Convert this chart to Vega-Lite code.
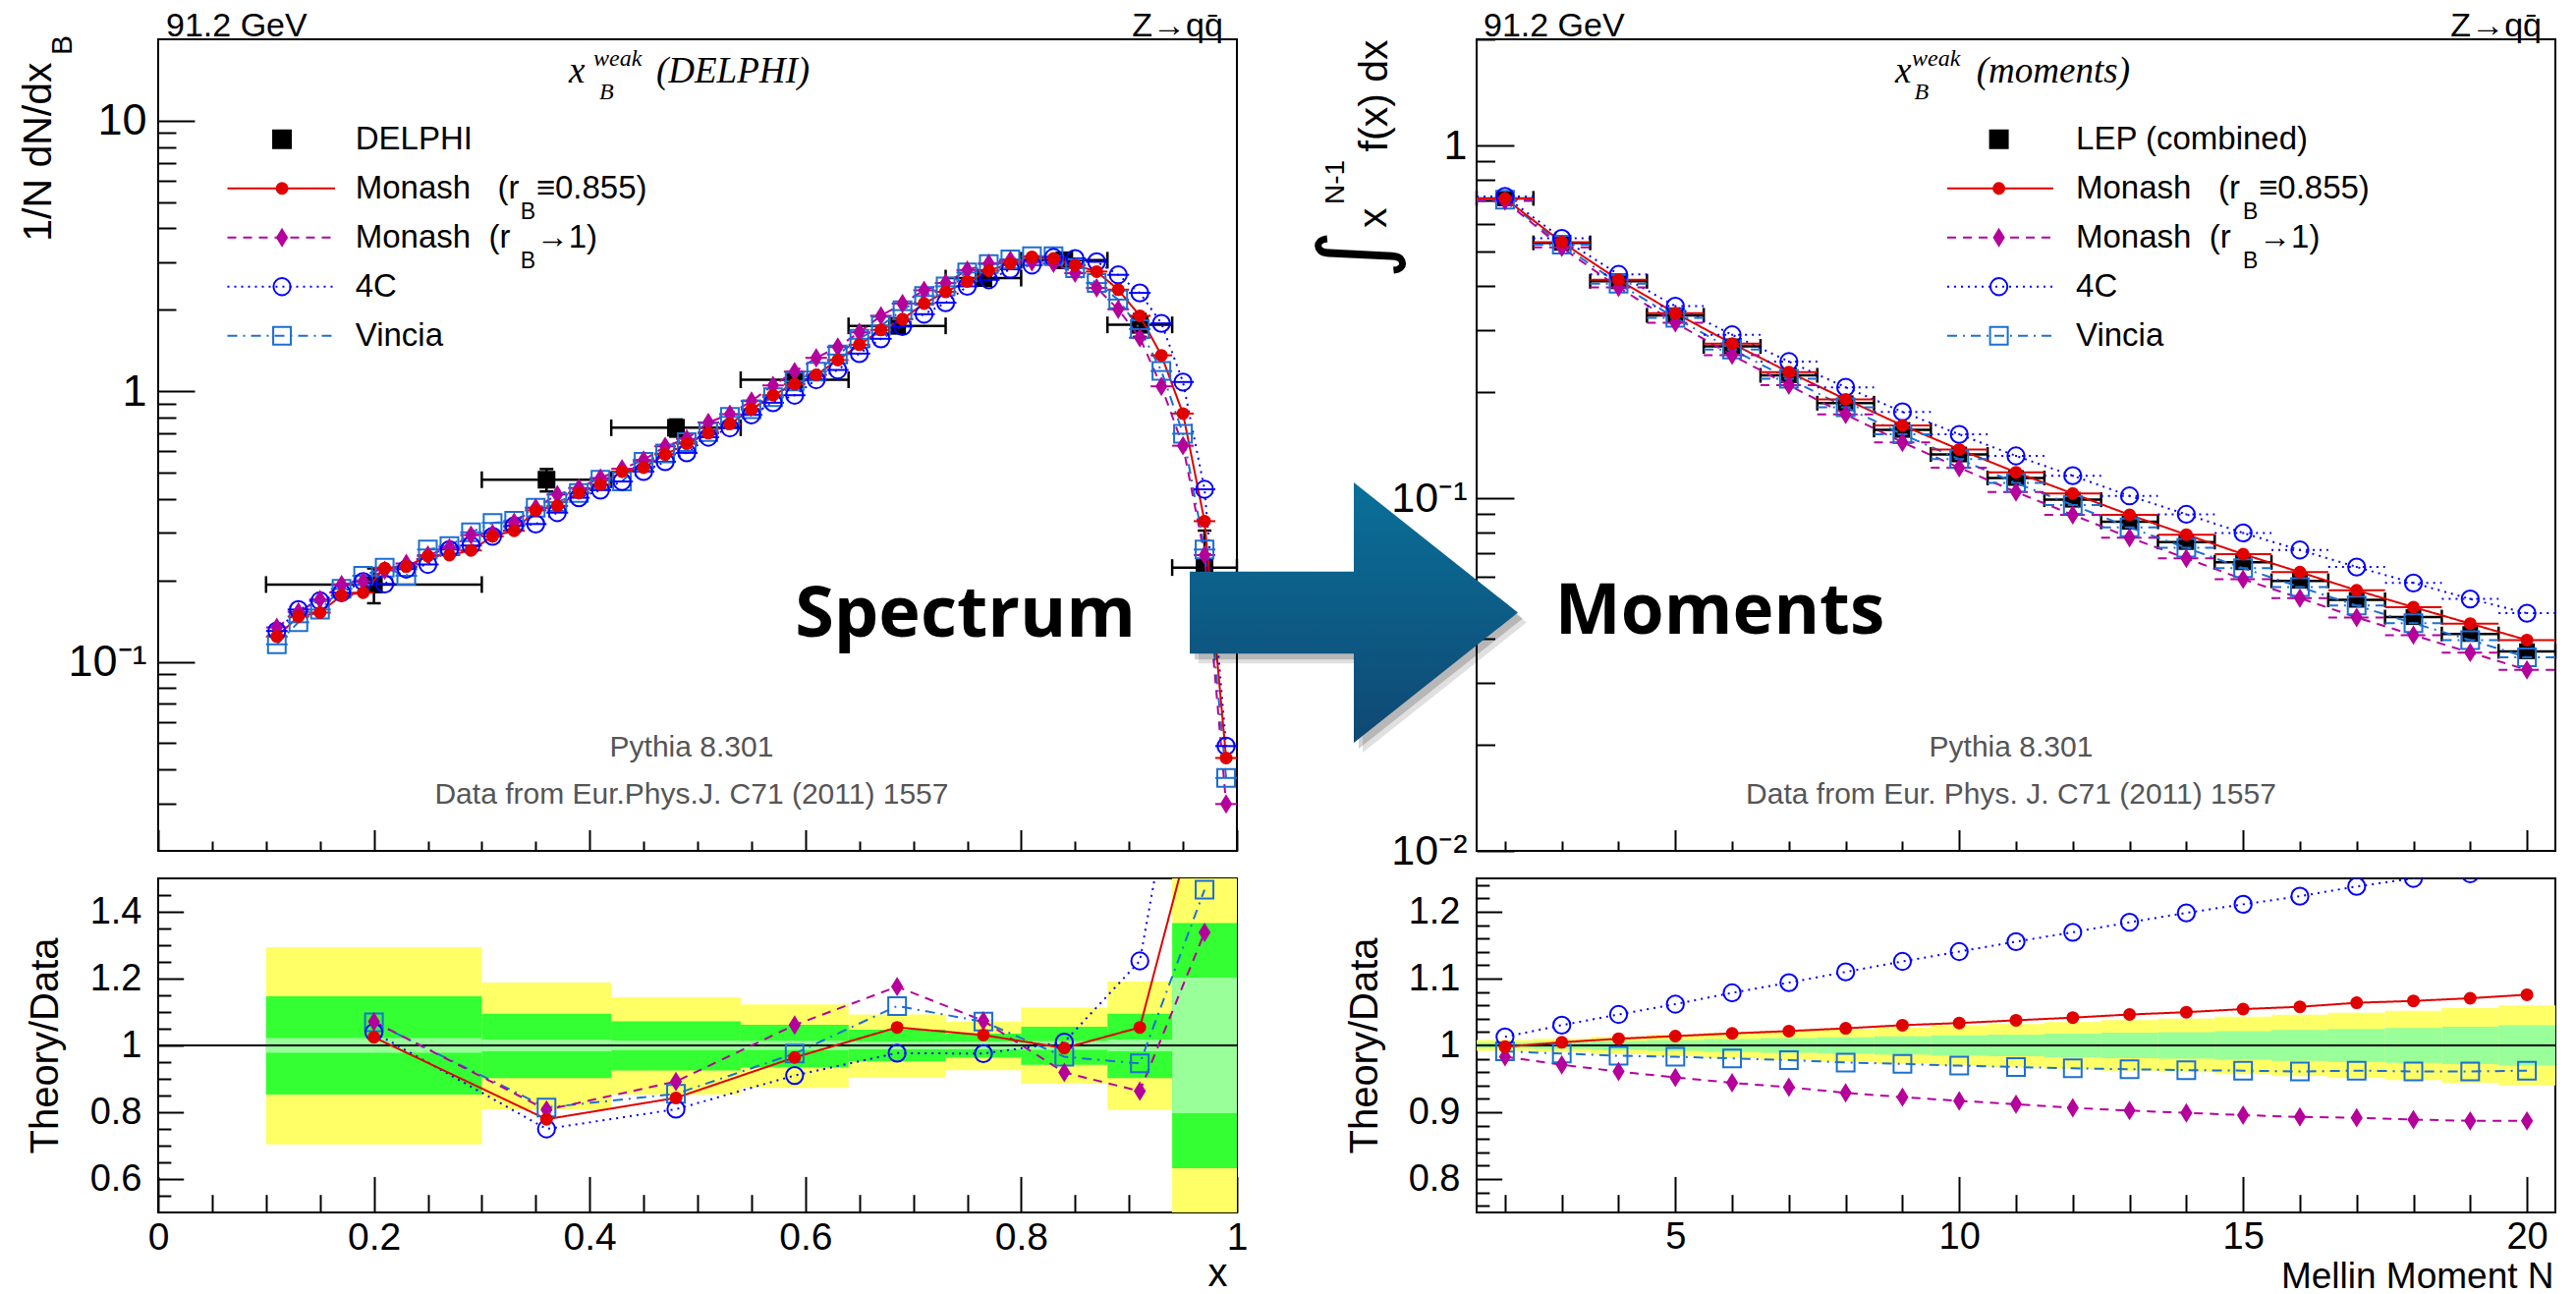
{
"$schema":"https://vega.github.io/schema/vega-lite/v6.json",
"background":"white",
"padding":{"left":17,"top":8,"right":5,"bottom":5},
"columns":2,
"spacing":{"row":28,"column":244},
"bounds":"flush",
"config":{
  "view":{"stroke":"#000000","strokeWidth":2},
  "font":"Liberation Sans",
  "axis":{"domain":false,"grid":false,"tickColor":"#000000","tickWidth":2,"labelColor":"#000000","titleColor":"#000000","labelFont":"Liberation Sans","titleFont":"Liberation Sans","titleFontWeight":"normal","labelFlush":false,"labelOverlap":false,"labelBound":false},
  "legend":{"disable":true}
},
"datasets":{
  "delphi":[
    {"series":"D","x":0.2,"xlo":0.1,"xhi":0.3,"v":0.193,"lo":0.1646,"hi":0.2214},
    {"series":"D","x":0.36,"xlo":0.3,"xhi":0.42,"v":0.471,"lo":0.4263,"hi":0.5157},
    {"series":"D","x":0.48,"xlo":0.42,"xhi":0.54,"v":0.733,"lo":0.6795,"hi":0.7865},
    {"series":"D","x":0.59,"xlo":0.54,"xhi":0.64,"v":1.103,"lo":1.031,"hi":1.175},
    {"series":"D","x":0.685,"xlo":0.64,"xhi":0.73,"v":1.745,"lo":1.661,"hi":1.829},
    {"series":"D","x":0.765,"xlo":0.73,"xhi":0.8,"v":2.62,"lo":2.523,"hi":2.717},
    {"series":"D","x":0.84,"xlo":0.8,"xhi":0.88,"v":3.05,"lo":2.873,"hi":3.227},
    {"series":"D","x":0.91,"xlo":0.88,"xhi":0.94,"v":1.76,"lo":1.589,"hi":1.931},
    {"series":"D","x":0.97,"xlo":0.94,"xhi":1.0,"v":0.223,"lo":0.1405,"hi":0.3055}
  ],
  "spec":[
    {"series":"V","x":0.11,"v":0.116},{"series":"V","x":0.13,"v":0.14},{"series":"V","x":0.15,"v":0.156},{"series":"V","x":0.17,"v":0.186},{"series":"V","x":0.19,"v":0.208},{"series":"V","x":0.21,"v":0.223},{"series":"V","x":0.23,"v":0.208},{"series":"V","x":0.25,"v":0.26},{"series":"V","x":0.27,"v":0.268},{"series":"V","x":0.29,"v":0.301},{"series":"V","x":0.31,"v":0.326},{"series":"V","x":0.33,"v":0.332},{"series":"V","x":0.35,"v":0.371},{"series":"V","x":0.37,"v":0.389},{"series":"V","x":0.39,"v":0.421},{"series":"V","x":0.41,"v":0.471},{"series":"V","x":0.43,"v":0.464},{"series":"V","x":0.45,"v":0.549},{"series":"V","x":0.47,"v":0.589},{"series":"V","x":0.49,"v":0.649},{"series":"V","x":0.51,"v":0.706},{"series":"V","x":0.53,"v":0.804},{"series":"V","x":0.55,"v":0.858},{"series":"V","x":0.57,"v":0.951},{"series":"V","x":0.59,"v":1.087},{"series":"V","x":0.61,"v":1.182},{"series":"V","x":0.63,"v":1.367},{"series":"V","x":0.65,"v":1.563},{"series":"V","x":0.67,"v":1.748},{"series":"V","x":0.69,"v":1.995},{"series":"V","x":0.71,"v":2.25},{"series":"V","x":0.73,"v":2.443},{"series":"V","x":0.75,"v":2.748},{"series":"V","x":0.77,"v":2.953},{"series":"V","x":0.79,"v":3.07},{"series":"V","x":0.81,"v":3.157},{"series":"V","x":0.83,"v":3.157},{"series":"V","x":0.85,"v":2.848},{"series":"V","x":0.87,"v":2.512},{"series":"V","x":0.89,"v":2.183},{"series":"V","x":0.91,"v":1.698},{"series":"V","x":0.93,"v":1.188},{"series":"V","x":0.95,"v":0.697},{"series":"V","x":0.97,"v":0.26},{"series":"V","x":0.99,"v":0.0372},
    {"series":"C","x":0.11,"v":0.13},{"series":"C","x":0.13,"v":0.156},{"series":"C","x":0.15,"v":0.168},{"series":"C","x":0.17,"v":0.18},{"series":"C","x":0.19,"v":0.198},{"series":"C","x":0.21,"v":0.194},{"series":"C","x":0.23,"v":0.22},{"series":"C","x":0.25,"v":0.229},{"series":"C","x":0.27,"v":0.26},{"series":"C","x":0.29,"v":0.269},{"series":"C","x":0.31,"v":0.291},{"series":"C","x":0.33,"v":0.318},{"series":"C","x":0.35,"v":0.323},{"series":"C","x":0.37,"v":0.356},{"series":"C","x":0.39,"v":0.404},{"series":"C","x":0.41,"v":0.431},{"series":"C","x":0.43,"v":0.464},{"series":"C","x":0.45,"v":0.505},{"series":"C","x":0.47,"v":0.549},{"series":"C","x":0.49,"v":0.592},{"series":"C","x":0.51,"v":0.676},{"series":"C","x":0.53,"v":0.732},{"series":"C","x":0.55,"v":0.818},{"series":"C","x":0.57,"v":0.907},{"series":"C","x":0.59,"v":0.967},{"series":"C","x":0.61,"v":1.103},{"series":"C","x":0.63,"v":1.199},{"series":"C","x":0.65,"v":1.378},{"series":"C","x":0.67,"v":1.563},{"series":"C","x":0.69,"v":1.735},{"series":"C","x":0.71,"v":1.927},{"series":"C","x":0.73,"v":2.125},{"series":"C","x":0.75,"v":2.443},{"series":"C","x":0.77,"v":2.582},{"series":"C","x":0.79,"v":2.824},{"series":"C","x":0.81,"v":2.928},{"series":"C","x":0.83,"v":3.124},{"series":"C","x":0.85,"v":3.097},{"series":"C","x":0.87,"v":3.01},{"series":"C","x":0.89,"v":2.694},{"series":"C","x":0.91,"v":2.31},{"series":"C","x":0.93,"v":1.783},{"series":"C","x":0.95,"v":1.082},{"series":"C","x":0.97,"v":0.434},{"series":"C","x":0.99,"v":0.0488},
    {"series":"R","x":0.11,"v":0.134},{"series":"R","x":0.13,"v":0.153},{"series":"R","x":0.15,"v":0.17},{"series":"R","x":0.17,"v":0.193},{"series":"R","x":0.19,"v":0.198},{"series":"R","x":0.21,"v":0.218},{"series":"R","x":0.23,"v":0.231},{"series":"R","x":0.25,"v":0.248},{"series":"R","x":0.27,"v":0.264},{"series":"R","x":0.29,"v":0.294},{"series":"R","x":0.31,"v":0.298},{"series":"R","x":0.33,"v":0.328},{"series":"R","x":0.35,"v":0.371},{"series":"R","x":0.37,"v":0.415},{"series":"R","x":0.39,"v":0.439},{"series":"R","x":0.41,"v":0.478},{"series":"R","x":0.43,"v":0.517},{"series":"R","x":0.45,"v":0.557},{"series":"R","x":0.47,"v":0.626},{"series":"R","x":0.49,"v":0.667},{"series":"R","x":0.51,"v":0.767},{"series":"R","x":0.53,"v":0.823},{"series":"R","x":0.55,"v":0.92},{"series":"R","x":0.57,"v":1.051},{"series":"R","x":0.59,"v":1.182},{"series":"R","x":0.61,"v":1.329},{"series":"R","x":0.63,"v":1.457},{"series":"R","x":0.65,"v":1.652},{"series":"R","x":0.67,"v":1.901},{"series":"R","x":0.69,"v":2.11},{"series":"R","x":0.71,"v":2.362},{"series":"R","x":0.73,"v":2.512},{"series":"R","x":0.75,"v":2.806},{"series":"R","x":0.77,"v":2.97},{"series":"R","x":0.79,"v":3.054},{"series":"R","x":0.81,"v":3.01},{"series":"R","x":0.83,"v":2.97},{"series":"R","x":0.85,"v":2.732},{"series":"R","x":0.87,"v":2.409},{"series":"R","x":0.89,"v":2.009},{"series":"R","x":0.91,"v":1.578},{"series":"R","x":0.93,"v":1.043},{"series":"R","x":0.95,"v":0.629},{"series":"R","x":0.97,"v":0.248},{"series":"R","x":0.99,"v":0.0298},
    {"series":"M","x":0.11,"v":0.124},{"series":"M","x":0.13,"v":0.147},{"series":"M","x":0.15,"v":0.152},{"series":"M","x":0.17,"v":0.176},{"series":"M","x":0.19,"v":0.18},{"series":"M","x":0.21,"v":0.222},{"series":"M","x":0.23,"v":0.225},{"series":"M","x":0.25,"v":0.246},{"series":"M","x":0.27,"v":0.248},{"series":"M","x":0.29,"v":0.258},{"series":"M","x":0.31,"v":0.291},{"series":"M","x":0.33,"v":0.305},{"series":"M","x":0.35,"v":0.363},{"series":"M","x":0.37,"v":0.377},{"series":"M","x":0.39,"v":0.421},{"series":"M","x":0.41,"v":0.452},{"series":"M","x":0.43,"v":0.505},{"series":"M","x":0.45,"v":0.522},{"series":"M","x":0.47,"v":0.584},{"series":"M","x":0.49,"v":0.64},{"series":"M","x":0.51,"v":0.7},{"series":"M","x":0.53,"v":0.757},{"series":"M","x":0.55,"v":0.858},{"series":"M","x":0.57,"v":0.967},{"series":"M","x":0.59,"v":1.063},{"series":"M","x":0.61,"v":1.15},{"series":"M","x":0.63,"v":1.304},{"series":"M","x":0.65,"v":1.486},{"series":"M","x":0.67,"v":1.685},{"series":"M","x":0.69,"v":1.848},{"series":"M","x":0.71,"v":2.11},{"series":"M","x":0.73,"v":2.33},{"series":"M","x":0.75,"v":2.547},{"series":"M","x":0.77,"v":2.79},{"series":"M","x":0.79,"v":2.97},{"series":"M","x":0.81,"v":3.14},{"series":"M","x":0.83,"v":3.097},{"series":"M","x":0.85,"v":2.928},{"series":"M","x":0.87,"v":2.77},{"series":"M","x":0.89,"v":2.375},{"series":"M","x":0.91,"v":1.901},{"series":"M","x":0.93,"v":1.358},{"series":"M","x":0.95,"v":0.827},{"series":"M","x":0.97,"v":0.331},{"series":"M","x":0.99,"v":0.0441}
  ],
  "bandL":[
    {"xlo":0.1,"xhi":0.3,"y2lo":0.704,"y2hi":1.294,"y1lo":0.853,"y1hi":1.147,"slo":0.978,"shi":1.022},
    {"xlo":0.3,"xhi":0.42,"y2lo":0.809,"y2hi":1.188,"y1lo":0.902,"y1hi":1.095,"slo":0.982,"shi":1.018},
    {"xlo":0.42,"xhi":0.54,"y2lo":0.853,"y2hi":1.144,"y1lo":0.925,"y1hi":1.072,"slo":0.985,"shi":1.015},
    {"xlo":0.54,"xhi":0.64,"y2lo":0.873,"y2hi":1.123,"y1lo":0.934,"y1hi":1.062,"slo":0.986,"shi":1.014},
    {"xlo":0.64,"xhi":0.73,"y2lo":0.903,"y2hi":1.093,"y1lo":0.952,"y1hi":1.047,"slo":0.988,"shi":1.012},
    {"xlo":0.73,"xhi":0.8,"y2lo":0.926,"y2hi":1.071,"y1lo":0.963,"y1hi":1.035,"slo":0.988,"shi":1.012},
    {"xlo":0.8,"xhi":0.88,"y2lo":0.885,"y2hi":1.113,"y1lo":0.942,"y1hi":1.056,"slo":0.987,"shi":1.013},
    {"xlo":0.88,"xhi":0.94,"y2lo":0.807,"y2hi":1.191,"y1lo":0.902,"y1hi":1.095,"slo":0.982,"shi":1.018},
    {"xlo":0.94,"xhi":1.0,"y2lo":0.26,"y2hi":1.74,"y1lo":0.632,"y1hi":1.366,"slo":0.797,"shi":1.203}
  ],
  "ratL":[
    {"series":"V","x":0.2,"r":1.069},{"series":"V","x":0.36,"r":0.814},{"series":"V","x":0.48,"r":0.855},{"series":"V","x":0.59,"r":0.9755},{"series":"V","x":0.685,"r":1.118},{"series":"V","x":0.765,"r":1.071},{"series":"V","x":0.84,"r":0.966},{"series":"V","x":0.91,"r":0.946},{"series":"V","x":0.97,"r":1.466},
    {"series":"C","x":0.2,"r":1.039},{"series":"C","x":0.36,"r":0.75},{"series":"C","x":0.48,"r":0.809},{"series":"C","x":0.59,"r":0.91},{"series":"C","x":0.685,"r":0.977},{"series":"C","x":0.765,"r":0.9755},{"series":"C","x":0.84,"r":1.01},{"series":"C","x":0.91,"r":1.253},{"series":"C","x":0.97,"r":2.33},
    {"series":"R","x":0.2,"r":1.071},{"series":"R","x":0.36,"r":0.807},{"series":"R","x":0.48,"r":0.892},{"series":"R","x":0.59,"r":1.061},{"series":"R","x":0.685,"r":1.176},{"series":"R","x":0.765,"r":1.0735},{"series":"R","x":0.84,"r":0.919},{"series":"R","x":0.91,"r":0.863},{"series":"R","x":0.97,"r":1.338},
    {"series":"M","x":0.2,"r":1.0245},{"series":"M","x":0.36,"r":0.779},{"series":"M","x":0.48,"r":0.843},{"series":"M","x":0.59,"r":0.964},{"series":"M","x":0.685,"r":1.054},{"series":"M","x":0.765,"r":1.031},{"series":"M","x":0.84,"r":0.992},{"series":"M","x":0.91,"r":1.054},{"series":"M","x":0.97,"r":1.79}
  ],
  "lep":[
    {"series":"D","N":2,"v":0.708,"nlo":1.5,"nhi":2.5},{"series":"D","N":3,"v":0.5295,"nlo":2.5,"nhi":3.5},{"series":"D","N":4,"v":0.412,"nlo":3.5,"nhi":4.5},{"series":"D","N":5,"v":0.33,"nlo":4.5,"nhi":5.5},{"series":"D","N":6,"v":0.2694,"nlo":5.5,"nhi":6.5},{"series":"D","N":7,"v":0.223,"nlo":6.5,"nhi":7.5},{"series":"D","N":8,"v":0.1859,"nlo":7.5,"nhi":8.5},{"series":"D","N":9,"v":0.1561,"nlo":8.5,"nhi":9.5},{"series":"D","N":10,"v":0.133,"nlo":9.5,"nhi":10.5},{"series":"D","N":11,"v":0.1141,"nlo":10.5,"nhi":11.5},{"series":"D","N":12,"v":0.099,"nlo":11.5,"nhi":12.5},{"series":"D","N":13,"v":0.0857,"nlo":12.5,"nhi":13.5},{"series":"D","N":14,"v":0.0751,"nlo":13.5,"nhi":14.5},{"series":"D","N":15,"v":0.0658,"nlo":14.5,"nhi":15.5},{"series":"D","N":16,"v":0.0583,"nlo":15.5,"nhi":16.5},{"series":"D","N":17,"v":0.0515,"nlo":16.5,"nhi":17.5},{"series":"D","N":18,"v":0.046,"nlo":17.5,"nhi":18.5},{"series":"D","N":19,"v":0.0412,"nlo":18.5,"nhi":19.5},{"series":"D","N":20,"v":0.0368,"nlo":19.5,"nhi":20.5}
  ],
  "momm":[
    {"series":"V","N":2,"v":0.7016,"nlo":1.5,"nhi":2.5},{"series":"V","N":3,"v":0.523,"nlo":2.5,"nhi":3.5},{"series":"V","N":4,"v":0.4056,"nlo":3.5,"nhi":4.5},{"series":"V","N":5,"v":0.3244,"nlo":4.5,"nhi":5.5},{"series":"V","N":6,"v":0.2641,"nlo":5.5,"nhi":6.5},{"series":"V","N":7,"v":0.2181,"nlo":6.5,"nhi":7.5},{"series":"V","N":8,"v":0.1811,"nlo":7.5,"nhi":8.5},{"series":"V","N":9,"v":0.1518,"nlo":8.5,"nhi":9.5},{"series":"V","N":10,"v":0.129,"nlo":9.5,"nhi":10.5},{"series":"V","N":11,"v":0.1104,"nlo":10.5,"nhi":11.5},{"series":"V","N":12,"v":0.0956,"nlo":11.5,"nhi":12.5},{"series":"V","N":13,"v":0.0826,"nlo":12.5,"nhi":13.5},{"series":"V","N":14,"v":0.0723,"nlo":13.5,"nhi":14.5},{"series":"V","N":15,"v":0.0633,"nlo":14.5,"nhi":15.5},{"series":"V","N":16,"v":0.056,"nlo":15.5,"nhi":16.5},{"series":"V","N":17,"v":0.0496,"nlo":16.5,"nhi":17.5},{"series":"V","N":18,"v":0.0442,"nlo":17.5,"nhi":18.5},{"series":"V","N":19,"v":0.0396,"nlo":18.5,"nhi":19.5},{"series":"V","N":20,"v":0.0354,"nlo":19.5,"nhi":20.5},
    {"series":"C","N":2,"v":0.717,"nlo":1.5,"nhi":2.5},{"series":"C","N":3,"v":0.5455,"nlo":2.5,"nhi":3.5},{"series":"C","N":4,"v":0.4311,"nlo":3.5,"nhi":4.5},{"series":"C","N":5,"v":0.3504,"nlo":4.5,"nhi":5.5},{"series":"C","N":6,"v":0.2906,"nlo":5.5,"nhi":6.5},{"series":"C","N":7,"v":0.244,"nlo":6.5,"nhi":7.5},{"series":"C","N":8,"v":0.2063,"nlo":7.5,"nhi":8.5},{"series":"C","N":9,"v":0.1757,"nlo":8.5,"nhi":9.5},{"series":"C","N":10,"v":0.1517,"nlo":9.5,"nhi":10.5},{"series":"C","N":11,"v":0.1318,"nlo":10.5,"nhi":11.5},{"series":"C","N":12,"v":0.1158,"nlo":11.5,"nhi":12.5},{"series":"C","N":13,"v":0.1015,"nlo":12.5,"nhi":13.5},{"series":"C","N":14,"v":0.09,"nlo":13.5,"nhi":14.5},{"series":"C","N":15,"v":0.0797,"nlo":14.5,"nhi":15.5},{"series":"C","N":16,"v":0.0713,"nlo":15.5,"nhi":16.5},{"series":"C","N":17,"v":0.0638,"nlo":16.5,"nhi":17.5},{"series":"C","N":18,"v":0.0575,"nlo":17.5,"nhi":18.5},{"series":"C","N":19,"v":0.0518,"nlo":18.5,"nhi":19.5},{"series":"C","N":20,"v":0.0472,"nlo":19.5,"nhi":20.5},
    {"series":"R","N":2,"v":0.696,"nlo":1.5,"nhi":2.5},{"series":"R","N":3,"v":0.5141,"nlo":2.5,"nhi":3.5},{"series":"R","N":4,"v":0.3959,"nlo":3.5,"nhi":4.5},{"series":"R","N":5,"v":0.3142,"nlo":4.5,"nhi":5.5},{"series":"R","N":6,"v":0.2543,"nlo":5.5,"nhi":6.5},{"series":"R","N":7,"v":0.209,"nlo":6.5,"nhi":7.5},{"series":"R","N":8,"v":0.1727,"nlo":7.5,"nhi":8.5},{"series":"R","N":9,"v":0.144,"nlo":8.5,"nhi":9.5},{"series":"R","N":10,"v":0.122,"nlo":9.5,"nhi":10.5},{"series":"R","N":11,"v":0.1041,"nlo":10.5,"nhi":11.5},{"series":"R","N":12,"v":0.0897,"nlo":11.5,"nhi":12.5},{"series":"R","N":13,"v":0.0773,"nlo":12.5,"nhi":13.5},{"series":"R","N":14,"v":0.0675,"nlo":13.5,"nhi":14.5},{"series":"R","N":15,"v":0.0589,"nlo":14.5,"nhi":15.5},{"series":"R","N":16,"v":0.0521,"nlo":15.5,"nhi":16.5},{"series":"R","N":17,"v":0.0459,"nlo":16.5,"nhi":17.5},{"series":"R","N":18,"v":0.0409,"nlo":17.5,"nhi":18.5},{"series":"R","N":19,"v":0.0365,"nlo":18.5,"nhi":19.5},{"series":"R","N":20,"v":0.0326,"nlo":19.5,"nhi":20.5},
    {"series":"M","N":2,"v":0.707,"nlo":1.5,"nhi":2.5},{"series":"M","N":3,"v":0.532,"nlo":2.5,"nhi":3.5},{"series":"M","N":4,"v":0.416,"nlo":3.5,"nhi":4.5},{"series":"M","N":5,"v":0.3346,"nlo":4.5,"nhi":5.5},{"series":"M","N":6,"v":0.2743,"nlo":5.5,"nhi":6.5},{"series":"M","N":7,"v":0.2278,"nlo":6.5,"nhi":7.5},{"series":"M","N":8,"v":0.1907,"nlo":7.5,"nhi":8.5},{"series":"M","N":9,"v":0.1608,"nlo":8.5,"nhi":9.5},{"series":"M","N":10,"v":0.1375,"nlo":9.5,"nhi":10.5},{"series":"M","N":11,"v":0.1184,"nlo":10.5,"nhi":11.5},{"series":"M","N":12,"v":0.1031,"nlo":11.5,"nhi":12.5},{"series":"M","N":13,"v":0.0897,"nlo":12.5,"nhi":13.5},{"series":"M","N":14,"v":0.0788,"nlo":13.5,"nhi":14.5},{"series":"M","N":15,"v":0.0694,"nlo":14.5,"nhi":15.5},{"series":"M","N":16,"v":0.0617,"nlo":15.5,"nhi":16.5},{"series":"M","N":17,"v":0.0548,"nlo":16.5,"nhi":17.5},{"series":"M","N":18,"v":0.0491,"nlo":17.5,"nhi":18.5},{"series":"M","N":19,"v":0.0441,"nlo":18.5,"nhi":19.5},{"series":"M","N":20,"v":0.0396,"nlo":19.5,"nhi":20.5}
  ],
  "ratR":[
    {"series":"V","N":2,"r":0.991},{"series":"V","N":3,"r":0.9878},{"series":"V","N":4,"r":0.9845},{"series":"V","N":5,"r":0.983},{"series":"V","N":6,"r":0.9805},{"series":"V","N":7,"r":0.978},{"series":"V","N":8,"r":0.9744},{"series":"V","N":9,"r":0.9724},{"series":"V","N":10,"r":0.9697},{"series":"V","N":11,"r":0.9677},{"series":"V","N":12,"r":0.9657},{"series":"V","N":13,"r":0.9643},{"series":"V","N":14,"r":0.963},{"series":"V","N":15,"r":0.9623},{"series":"V","N":16,"r":0.961},{"series":"V","N":17,"r":0.9623},{"series":"V","N":18,"r":0.961},{"series":"V","N":19,"r":0.961},{"series":"V","N":20,"r":0.9623},
    {"series":"C","N":2,"r":1.0128},{"series":"C","N":3,"r":1.0303},{"series":"C","N":4,"r":1.0463},{"series":"C","N":5,"r":1.0618},{"series":"C","N":6,"r":1.0787},{"series":"C","N":7,"r":1.094},{"series":"C","N":8,"r":1.11},{"series":"C","N":9,"r":1.1257},{"series":"C","N":10,"r":1.1404},{"series":"C","N":11,"r":1.1553},{"series":"C","N":12,"r":1.1694},{"series":"C","N":13,"r":1.1843},{"series":"C","N":14,"r":1.1984},{"series":"C","N":15,"r":1.2112},{"series":"C","N":16,"r":1.2233},{"series":"C","N":17,"r":1.238},{"series":"C","N":18,"r":1.25},{"series":"C","N":19,"r":1.257},{"series":"C","N":20,"r":1.283},
    {"series":"R","N":2,"r":0.983},{"series":"R","N":3,"r":0.971},{"series":"R","N":4,"r":0.961},{"series":"R","N":5,"r":0.952},{"series":"R","N":6,"r":0.944},{"series":"R","N":7,"r":0.9374},{"series":"R","N":8,"r":0.929},{"series":"R","N":9,"r":0.9226},{"series":"R","N":10,"r":0.917},{"series":"R","N":11,"r":0.912},{"series":"R","N":12,"r":0.9065},{"series":"R","N":13,"r":0.9025},{"series":"R","N":14,"r":0.899},{"series":"R","N":15,"r":0.8957},{"series":"R","N":16,"r":0.893},{"series":"R","N":17,"r":0.8917},{"series":"R","N":18,"r":0.889},{"series":"R","N":19,"r":0.887},{"series":"R","N":20,"r":0.887},
    {"series":"M","N":2,"r":0.998},{"series":"M","N":3,"r":1.0047},{"series":"M","N":4,"r":1.01},{"series":"M","N":5,"r":1.014},{"series":"M","N":6,"r":1.018},{"series":"M","N":7,"r":1.0215},{"series":"M","N":8,"r":1.0256},{"series":"M","N":9,"r":1.0303},{"series":"M","N":10,"r":1.0335},{"series":"M","N":11,"r":1.0376},{"series":"M","N":12,"r":1.0416},{"series":"M","N":13,"r":1.0463},{"series":"M","N":14,"r":1.0497},{"series":"M","N":15,"r":1.0544},{"series":"M","N":16,"r":1.0578},{"series":"M","N":17,"r":1.0638},{"series":"M","N":18,"r":1.0666},{"series":"M","N":19,"r":1.0706},{"series":"M","N":20,"r":1.0759}
  ],
  "bandR":[
    {"nlo":1.5,"nhi":2.5,"y2lo":0.992,"y2hi":1.008,"y1lo":0.996,"y1hi":1.004},
    {"nlo":2.5,"nhi":3.5,"y2lo":0.99,"y2hi":1.01,"y1lo":0.995,"y1hi":1.005},
    {"nlo":3.5,"nhi":4.5,"y2lo":0.987,"y2hi":1.013,"y1lo":0.9935,"y1hi":1.0065},
    {"nlo":4.5,"nhi":5.5,"y2lo":0.984,"y2hi":1.016,"y1lo":0.992,"y1hi":1.008},
    {"nlo":5.5,"nhi":6.5,"y2lo":0.981,"y2hi":1.019,"y1lo":0.9905,"y1hi":1.0095},
    {"nlo":6.5,"nhi":7.5,"y2lo":0.978,"y2hi":1.022,"y1lo":0.989,"y1hi":1.011},
    {"nlo":7.5,"nhi":8.5,"y2lo":0.976,"y2hi":1.024,"y1lo":0.988,"y1hi":1.012},
    {"nlo":8.5,"nhi":9.5,"y2lo":0.973,"y2hi":1.027,"y1lo":0.9865,"y1hi":1.0135},
    {"nlo":9.5,"nhi":10.5,"y2lo":0.97,"y2hi":1.03,"y1lo":0.985,"y1hi":1.015},
    {"nlo":10.5,"nhi":11.5,"y2lo":0.968,"y2hi":1.032,"y1lo":0.984,"y1hi":1.016},
    {"nlo":11.5,"nhi":12.5,"y2lo":0.965,"y2hi":1.035,"y1lo":0.9825,"y1hi":1.0175},
    {"nlo":12.5,"nhi":13.5,"y2lo":0.962,"y2hi":1.038,"y1lo":0.981,"y1hi":1.019},
    {"nlo":13.5,"nhi":14.5,"y2lo":0.96,"y2hi":1.04,"y1lo":0.98,"y1hi":1.02},
    {"nlo":14.5,"nhi":15.5,"y2lo":0.957,"y2hi":1.043,"y1lo":0.9785,"y1hi":1.0215},
    {"nlo":15.5,"nhi":16.5,"y2lo":0.954,"y2hi":1.046,"y1lo":0.977,"y1hi":1.023},
    {"nlo":16.5,"nhi":17.5,"y2lo":0.951,"y2hi":1.049,"y1lo":0.9755,"y1hi":1.0245},
    {"nlo":17.5,"nhi":18.5,"y2lo":0.948,"y2hi":1.052,"y1lo":0.974,"y1hi":1.026},
    {"nlo":18.5,"nhi":19.5,"y2lo":0.944,"y2hi":1.056,"y1lo":0.972,"y1hi":1.028},
    {"nlo":19.5,"nhi":20.5,"y2lo":0.94,"y2hi":1.06,"y1lo":0.97,"y1hi":1.03}
  ],
  "legL":[
    {"series":"D","label":"DELPHI","sub":"","tail":""},
    {"series":"M","label":"Monash\u00a0\u00a0\u00a0(r","sub":"B","tail":"≡0.855)"},
    {"series":"R","label":"Monash\u00a0\u00a0(r","sub":"B","tail":"→1)"},
    {"series":"C","label":"4C","sub":"","tail":""},
    {"series":"V","label":"Vincia","sub":"","tail":""}
  ],
  "legR":[
    {"series":"D","label":"LEP (combined)","sub":"","tail":""},
    {"series":"M","label":"Monash\u00a0\u00a0\u00a0(r","sub":"B","tail":"≡0.855)"},
    {"series":"R","label":"Monash\u00a0\u00a0(r","sub":"B","tail":"→1)"},
    {"series":"C","label":"4C","sub":"","tail":""},
    {"series":"V","label":"Vincia","sub":"","tail":""}
  ]
},
"concat":[
 {
  "width":1098,"height":826,
  "layer":[
   {"layer":[
     {"data":{"name":"delphi"},"mark":{"type":"point","opacity":0},"encoding":{
       "x":{"field":"x","type":"quantitative","scale":{"domain":[0,1],"nice":false,"zero":false},"axis":{"orient":"bottom","values":[0,0.2,0.4,0.6,0.8,1],"labels":false,"tickSize":-21.5,"title":null}},
       "y":{"field":"v","type":"quantitative","scale":{"type":"log","domain":[0.02,20],"nice":false},"axis":{"orient":"left","values":[0.1,1,10],"ticks":false,"tickSize":0,"labelPadding":12,"labelFontSize":45,"labelExpr":"datum.value > 5 ? '10' : datum.value > 0.5 ? '1' : '10⁻¹'","title":"1/N dN/dx","titleFontSize":41,"titleAngle":270,"titleAlign":"right","titleBaseline":"alphabetic","titleX":-110,"titleY":23}}}},
     {"data":{"name":"delphi"},"mark":{"type":"point","opacity":0},"encoding":{
       "x":{"field":"x","type":"quantitative","scale":{"domain":[0,1],"nice":false,"zero":false},"axis":{"orient":"bottom","values":[0.05,0.1,0.15,0.25,0.3,0.35,0.45,0.5,0.55,0.65,0.7,0.75,0.85,0.9,0.95],"labels":false,"tickSize":-10,"title":null}},
       "y":{"field":"v","type":"quantitative","scale":{"type":"log","domain":[0.02,20],"nice":false},"axis":{"orient":"left","values":[0.1,1,10],"labels":false,"tickSize":-37,"title":null}}}},
     {"data":{"name":"delphi"},"mark":{"type":"point","opacity":0},"encoding":{
       "x":{"field":"x","type":"quantitative","scale":{"domain":[0,1],"nice":false,"zero":false},"axis":null},
       "y":{"field":"v","type":"quantitative","scale":{"type":"log","domain":[0.02,20],"nice":false},"axis":{"orient":"left","values":[0.03,0.04,0.05,0.06,0.07,0.08,0.09,0.2,0.3,0.4,0.5,0.6,0.7,0.8,0.9,2,3,4,5,6,7,8,9],"labels":false,"tickSize":-18,"title":null}}}},
     {"data":{"name":"delphi"},"mark":{"type":"rule","color":"#000000","strokeWidth":2.5},"encoding":{
       "x":{"field":"xlo","type":"quantitative","scale":{"domain":[0,1],"nice":false,"zero":false},"axis":null},"x2":{"field":"xhi"},
       "y":{"field":"v","type":"quantitative","scale":{"type":"log","domain":[0.02,20],"nice":false},"axis":null}}},
     {"data":{"name":"delphi"},"mark":{"type":"tick","orient":"vertical","size":17,"thickness":2.5,"color":"#000000","opacity":1},"encoding":{
       "x":{"field":"xlo","type":"quantitative","scale":{"domain":[0,1],"nice":false,"zero":false},"axis":null},
       "y":{"field":"v","type":"quantitative","scale":{"type":"log","domain":[0.02,20],"nice":false},"axis":null}}},
     {"data":{"name":"delphi"},"mark":{"type":"tick","orient":"vertical","size":17,"thickness":2.5,"color":"#000000","opacity":1},"encoding":{
       "x":{"field":"xhi","type":"quantitative","scale":{"domain":[0,1],"nice":false,"zero":false},"axis":null},
       "y":{"field":"v","type":"quantitative","scale":{"type":"log","domain":[0.02,20],"nice":false},"axis":null}}},
     {"data":{"name":"delphi"},"mark":{"type":"rule","color":"#000000","strokeWidth":2.5},"encoding":{
       "x":{"field":"x","type":"quantitative","scale":{"domain":[0,1],"nice":false,"zero":false},"axis":null},
       "y":{"field":"lo","type":"quantitative","scale":{"type":"log","domain":[0.02,20],"nice":false},"axis":null},"y2":{"field":"hi"}}},
     {"data":{"name":"delphi"},"mark":{"type":"tick","orient":"horizontal","size":14,"thickness":2.5,"color":"#000000","opacity":1},"encoding":{
       "x":{"field":"x","type":"quantitative","scale":{"domain":[0,1],"nice":false,"zero":false},"axis":null},
       "y":{"field":"lo","type":"quantitative","scale":{"type":"log","domain":[0.02,20],"nice":false},"axis":null}}},
     {"data":{"name":"delphi"},"mark":{"type":"tick","orient":"horizontal","size":14,"thickness":2.5,"color":"#000000","opacity":1},"encoding":{
       "x":{"field":"x","type":"quantitative","scale":{"domain":[0,1],"nice":false,"zero":false},"axis":null},
       "y":{"field":"hi","type":"quantitative","scale":{"type":"log","domain":[0.02,20],"nice":false},"axis":null}}},
     {"data":{"name":"delphi"},"mark":{"type":"point","shape":"square","filled":true,"color":"#000000","size":324,"opacity":1},"encoding":{
       "x":{"field":"x","type":"quantitative","scale":{"domain":[0,1],"nice":false,"zero":false},"axis":null},
       "y":{"field":"v","type":"quantitative","scale":{"type":"log","domain":[0.02,20],"nice":false},"axis":null}}},
     {"data":{"name":"spec"},"mark":{"type":"line","strokeWidth":2},"encoding":{
       "x":{"field":"x","type":"quantitative","scale":{"domain":[0,1],"nice":false,"zero":false},"axis":null},
       "y":{"field":"v","type":"quantitative","scale":{"type":"log","domain":[0.02,20],"nice":false},"axis":null},
       "stroke":{"field":"series","type":"nominal","legend":null,"scale":{"domain":["D","M","R","C","V"],"range":["#000000","#e00000","#b5009b","#0000ff","#1c6fd3"]}},
       "strokeDash":{"field":"series","type":"nominal","legend":null,"scale":{"domain":["D","M","R","C","V"],"range":[[1,0],[1,0],[9,7],[2,5],[10,6,2,6]]}}}},
     {"data":{"name":"spec"},"mark":{"type":"tick","orient":"horizontal","size":22,"thickness":2,"opacity":1},"encoding":{
       "x":{"field":"x","type":"quantitative","scale":{"domain":[0,1],"nice":false,"zero":false},"axis":null},
       "y":{"field":"v","type":"quantitative","scale":{"type":"log","domain":[0.02,20],"nice":false},"axis":null},
       "color":{"field":"series","type":"nominal","legend":null,"scale":{"domain":["D","M","R","C","V"],"range":["#000000","#e00000","#b5009b","#0000ff","#1c6fd3"]}}}},
     {"data":{"name":"spec"},"mark":{"type":"point","strokeWidth":2,"opacity":1},"encoding":{
       "x":{"field":"x","type":"quantitative","scale":{"domain":[0,1],"nice":false,"zero":false},"axis":null},
       "y":{"field":"v","type":"quantitative","scale":{"type":"log","domain":[0.02,20],"nice":false},"axis":null},
       "shape":{"field":"series","type":"nominal","legend":null,"scale":{"domain":["D","M","R","C","V"],"range":["square","circle","M0,-1L0.62,0L0,1L-0.62,0Z","circle","square"]}},
       "size":{"field":"series","type":"nominal","legend":null,"scale":{"type":"ordinal","domain":["D","M","R","C","V"],"range":[324,121,260,300,324]}},
       "fill":{"field":"series","type":"nominal","legend":null,"scale":{"domain":["D","M","R","C","V"],"range":["#000000","#e00000","#b5009b","transparent","transparent"]}},
       "stroke":{"field":"series","type":"nominal","legend":null,"scale":{"domain":["D","M","R","C","V"],"range":["#000000","#e00000","#b5009b","#0000ff","#1c6fd3"]}}}},
     {"data":{"values":[{}]},"mark":{"type":"text","text":"91.2 GeV","fontSize":34,"align":"left","baseline":"alphabetic"},"encoding":{
       "x":{"datum":0.0073,"type":"quantitative","scale":{"domain":[0,1],"nice":false,"zero":false},"axis":null},
       "y":{"datum":20.51,"type":"quantitative","scale":{"type":"log","domain":[0.02,20],"nice":false},"axis":null}}},
     {"data":{"values":[{}]},"mark":{"type":"text","text":"Z→qq̄","fontSize":34,"align":"right","baseline":"alphabetic"},"encoding":{
       "x":{"datum":0.9872,"type":"quantitative","scale":{"domain":[0,1],"nice":false,"zero":false},"axis":null},
       "y":{"datum":20.51,"type":"quantitative","scale":{"type":"log","domain":[0.02,20],"nice":false},"axis":null}}},
     {"data":{"values":[{}]},"mark":{"type":"text","text":"x","font":"Liberation Serif","fontStyle":"italic","fontSize":37,"align":"left","baseline":"alphabetic"},"encoding":{
       "x":{"datum":0.3807,"type":"quantitative","scale":{"domain":[0,1],"nice":false,"zero":false},"axis":null},
       "y":{"datum":13.84,"type":"quantitative","scale":{"type":"log","domain":[0.02,20],"nice":false},"axis":null}}},
     {"data":{"values":[{}]},"mark":{"type":"text","text":"weak","font":"Liberation Serif","fontStyle":"italic","fontSize":24,"align":"left","baseline":"alphabetic"},"encoding":{
       "x":{"datum":0.4035,"type":"quantitative","scale":{"domain":[0,1],"nice":false,"zero":false},"axis":null},
       "y":{"datum":15.96,"type":"quantitative","scale":{"type":"log","domain":[0.02,20],"nice":false},"axis":null}}},
     {"data":{"values":[{}]},"mark":{"type":"text","text":"B","font":"Liberation Serif","fontStyle":"italic","fontSize":24,"align":"left","baseline":"alphabetic"},"encoding":{
       "x":{"datum":0.4089,"type":"quantitative","scale":{"domain":[0,1],"nice":false,"zero":false},"axis":null},
       "y":{"datum":12.01,"type":"quantitative","scale":{"type":"log","domain":[0.02,20],"nice":false},"axis":null}}},
     {"data":{"values":[{}]},"mark":{"type":"text","text":"(DELPHI)","font":"Liberation Serif","fontStyle":"italic","fontSize":37,"align":"left","baseline":"alphabetic"},"encoding":{
       "x":{"datum":0.4617,"type":"quantitative","scale":{"domain":[0,1],"nice":false,"zero":false},"axis":null},
       "y":{"datum":13.84,"type":"quantitative","scale":{"type":"log","domain":[0.02,20],"nice":false},"axis":null}}},
     {"data":{"values":[{}]},"mark":{"type":"text","text":"Pythia 8.301","fontSize":30,"color":"#555555","align":"center","baseline":"alphabetic"},"encoding":{
       "x":{"datum":0.4945,"type":"quantitative","scale":{"domain":[0,1],"nice":false,"zero":false},"axis":null},
       "y":{"datum":0.04482,"type":"quantitative","scale":{"type":"log","domain":[0.02,20],"nice":false},"axis":null}}},
     {"data":{"values":[{}]},"mark":{"type":"text","text":"Data from Eur.Phys.J. C71 (2011) 1557","fontSize":30,"color":"#555555","align":"center","baseline":"alphabetic"},"encoding":{
       "x":{"datum":0.4945,"type":"quantitative","scale":{"domain":[0,1],"nice":false,"zero":false},"axis":null},
       "y":{"datum":0.03,"type":"quantitative","scale":{"type":"log","domain":[0.02,20],"nice":false},"axis":null}}},
     {"data":{"values":[{}]},"mark":{"type":"text","text":"B","fontSize":30,"angle":270,"align":"left","baseline":"alphabetic"},"encoding":{
       "x":{"datum":-0.0806,"type":"quantitative","scale":{"domain":[0,1],"nice":false,"zero":false},"axis":null},
       "y":{"datum":17.5,"type":"quantitative","scale":{"type":"log","domain":[0.02,20],"nice":false},"axis":null}}},
     {"data":{"values":[{}]},"mark":{"type":"text","text":"Spectrum","font":"Open Sans","fontWeight":"bold","fontSize":72,"align":"center","baseline":"alphabetic"},"encoding":{
       "x":{"datum":0.7482,"type":"quantitative","scale":{"domain":[0,1],"nice":false,"zero":false},"axis":null},
       "y":{"datum":0.1243,"type":"quantitative","scale":{"type":"log","domain":[0.02,20],"nice":false},"axis":null}}}
    ],
    "resolve":{"axis":{"x":"independent","y":"independent"}}
   },
   {"data":{"name":"legL"},
    "layer":[
     {"transform":[{"filter":"datum.series != 'D'"}],"mark":{"type":"rule","strokeWidth":2},"encoding":{
       "x":{"datum":0.0642,"type":"quantitative","scale":{"domain":[0,1],"nice":false,"zero":false},"axis":null},"x2":{"datum":0.1639},
       "y":{"field":"series","type":"nominal","scale":{"type":"point","domain":["D","M","R","C","V"],"range":[101.75,301.75],"padding":0},"axis":null},
       "stroke":{"field":"series","type":"nominal","legend":null,"scale":{"domain":["D","M","R","C","V"],"range":["#000000","#e00000","#b5009b","#0000ff","#1c6fd3"]}},
       "strokeDash":{"field":"series","type":"nominal","legend":null,"scale":{"domain":["D","M","R","C","V"],"range":[[1,0],[1,0],[9,7],[2,5],[10,6,2,6]]}}}},
     {"mark":{"type":"point","strokeWidth":2,"opacity":1},"encoding":{
       "x":{"datum":0.1148,"type":"quantitative","scale":{"domain":[0,1],"nice":false,"zero":false},"axis":null},
       "y":{"field":"series","type":"nominal","scale":{"type":"point","domain":["D","M","R","C","V"],"range":[101.75,301.75],"padding":0},"axis":null},
       "shape":{"field":"series","type":"nominal","legend":null,"scale":{"domain":["D","M","R","C","V"],"range":["square","circle","M0,-1L0.62,0L0,1L-0.62,0Z","circle","square"]}},
       "size":{"field":"series","type":"nominal","legend":null,"scale":{"type":"ordinal","domain":["D","M","R","C","V"],"range":[324,121,260,300,324]}},
       "fill":{"field":"series","type":"nominal","legend":null,"scale":{"domain":["D","M","R","C","V"],"range":["#000000","#e00000","#b5009b","transparent","transparent"]}},
       "stroke":{"field":"series","type":"nominal","legend":null,"scale":{"domain":["D","M","R","C","V"],"range":["#000000","#e00000","#b5009b","#0000ff","#1c6fd3"]}}}},
     {"mark":{"type":"text","fontSize":33,"align":"left","baseline":"middle"},"encoding":{
       "x":{"datum":0.1828,"type":"quantitative","scale":{"domain":[0,1],"nice":false,"zero":false},"axis":null},
       "y":{"field":"series","type":"nominal","scale":{"type":"point","domain":["D","M","R","C","V"],"range":[101.75,301.75],"padding":0},"axis":null},
       "text":{"field":"label"}}},
     {"transform":[{"filter":"datum.sub != ''"}],"mark":{"type":"text","fontSize":23,"align":"left","baseline":"middle","dx":168,"dy":24},"encoding":{
       "x":{"datum":0.1828,"type":"quantitative","scale":{"domain":[0,1],"nice":false,"zero":false},"axis":null},
       "y":{"field":"series","type":"nominal","scale":{"type":"point","domain":["D","M","R","C","V"],"range":[101.75,301.75],"padding":0},"axis":null},
       "text":{"field":"sub"}}},
     {"transform":[{"filter":"datum.tail != ''"}],"mark":{"type":"text","fontSize":33,"align":"left","baseline":"middle","dx":184},"encoding":{
       "x":{"datum":0.1828,"type":"quantitative","scale":{"domain":[0,1],"nice":false,"zero":false},"axis":null},
       "y":{"field":"series","type":"nominal","scale":{"type":"point","domain":["D","M","R","C","V"],"range":[101.75,301.75],"padding":0},"axis":null},
       "text":{"field":"tail"}}}
    ]
   }
  ],
  "resolve":{"scale":{"y":"independent"},"axis":{"x":"independent","y":"independent"}}
 },
 {
  "width":1098,"height":826,
  "layer":[
   {"layer":[
     {"data":{"name":"lep"},"mark":{"type":"point","opacity":0},"encoding":{
       "x":{"field":"N","type":"quantitative","scale":{"domain":[1.5,20.5],"nice":false,"zero":false},"axis":{"orient":"bottom","values":[5,10,15,20],"labels":false,"tickSize":-21.5,"title":null}},
       "y":{"field":"v","type":"quantitative","scale":{"type":"log","domain":[0.01,2],"nice":false},"axis":{"orient":"left","values":[0.01,0.1,1],"ticks":false,"tickSize":0,"labelPadding":10,"labelFontSize":43,"labelExpr":"datum.value > 0.5 ? '1' : datum.value > 0.05 ? '10⁻¹' : '10⁻²'","title":"f(x) dx","titleFontSize":41,"titleAngle":270,"titleAlign":"right","titleBaseline":"alphabetic","titleX":-92,"titleY":0}}}},
     {"data":{"name":"lep"},"mark":{"type":"point","opacity":0},"encoding":{
       "x":{"field":"N","type":"quantitative","scale":{"domain":[1.5,20.5],"nice":false,"zero":false},"axis":{"orient":"bottom","values":[2,3,4,6,7,8,9,11,12,13,14,16,17,18,19],"labels":false,"tickSize":-10,"title":null}},
       "y":{"field":"v","type":"quantitative","scale":{"type":"log","domain":[0.01,2],"nice":false},"axis":{"orient":"left","values":[0.01,0.1,1],"labels":false,"tickSize":-38,"title":null}}}},
     {"data":{"name":"lep"},"mark":{"type":"point","opacity":0},"encoding":{
       "x":{"field":"N","type":"quantitative","scale":{"domain":[1.5,20.5],"nice":false,"zero":false},"axis":null},
       "y":{"field":"v","type":"quantitative","scale":{"type":"log","domain":[0.01,2],"nice":false},"axis":{"orient":"left","values":[0.02,0.03,0.04,0.05,0.06,0.07,0.08,0.09,0.2,0.3,0.4,0.5,0.6,0.7,0.8,0.9,2],"labels":false,"tickSize":-18.5,"title":null}}}},
     {"data":{"name":"lep"},"mark":{"type":"rule","color":"#000000","strokeWidth":2.5},"encoding":{
       "x":{"field":"nlo","type":"quantitative","scale":{"domain":[1.5,20.5],"nice":false,"zero":false},"axis":null},"x2":{"field":"nhi"},
       "y":{"field":"v","type":"quantitative","scale":{"type":"log","domain":[0.01,2],"nice":false},"axis":null}}},
     {"data":{"name":"lep"},"mark":{"type":"tick","orient":"vertical","size":15,"thickness":2.5,"color":"#000000","opacity":1},"encoding":{
       "x":{"field":"nlo","type":"quantitative","scale":{"domain":[1.5,20.5],"nice":false,"zero":false},"axis":null},
       "y":{"field":"v","type":"quantitative","scale":{"type":"log","domain":[0.01,2],"nice":false},"axis":null}}},
     {"data":{"name":"lep"},"mark":{"type":"tick","orient":"vertical","size":15,"thickness":2.5,"color":"#000000","opacity":1},"encoding":{
       "x":{"field":"nhi","type":"quantitative","scale":{"domain":[1.5,20.5],"nice":false,"zero":false},"axis":null},
       "y":{"field":"v","type":"quantitative","scale":{"type":"log","domain":[0.01,2],"nice":false},"axis":null}}},
     {"data":{"name":"lep"},"mark":{"type":"point","shape":"square","filled":true,"color":"#000000","size":256,"opacity":1},"encoding":{
       "x":{"field":"N","type":"quantitative","scale":{"domain":[1.5,20.5],"nice":false,"zero":false},"axis":null},
       "y":{"field":"v","type":"quantitative","scale":{"type":"log","domain":[0.01,2],"nice":false},"axis":null}}},
     {"data":{"name":"momm"},"mark":{"type":"line","strokeWidth":2},"encoding":{
       "x":{"field":"N","type":"quantitative","scale":{"domain":[1.5,20.5],"nice":false,"zero":false},"axis":null},
       "y":{"field":"v","type":"quantitative","scale":{"type":"log","domain":[0.01,2],"nice":false},"axis":null},
       "stroke":{"field":"series","type":"nominal","legend":null,"scale":{"domain":["D","M","R","C","V"],"range":["#000000","#e00000","#b5009b","#0000ff","#1c6fd3"]}},
       "strokeDash":{"field":"series","type":"nominal","legend":null,"scale":{"domain":["D","M","R","C","V"],"range":[[1,0],[1,0],[9,7],[2,5],[10,6,2,6]]}}}},
     {"data":{"name":"momm"},"mark":{"type":"rule","strokeWidth":2},"encoding":{
       "x":{"field":"nlo","type":"quantitative","scale":{"domain":[1.5,20.5],"nice":false,"zero":false},"axis":null},"x2":{"field":"nhi"},
       "y":{"field":"v","type":"quantitative","scale":{"type":"log","domain":[0.01,2],"nice":false},"axis":null},
       "stroke":{"field":"series","type":"nominal","legend":null,"scale":{"domain":["D","M","R","C","V"],"range":["#000000","#e00000","#b5009b","#0000ff","#1c6fd3"]}},
       "strokeDash":{"field":"series","type":"nominal","legend":null,"scale":{"domain":["D","M","R","C","V"],"range":[[1,0],[1,0],[9,7],[2,5],[10,6,2,6]]}}}},
     {"data":{"name":"momm"},"mark":{"type":"point","strokeWidth":2,"opacity":1},"encoding":{
       "x":{"field":"N","type":"quantitative","scale":{"domain":[1.5,20.5],"nice":false,"zero":false},"axis":null},
       "y":{"field":"v","type":"quantitative","scale":{"type":"log","domain":[0.01,2],"nice":false},"axis":null},
       "shape":{"field":"series","type":"nominal","legend":null,"scale":{"domain":["D","M","R","C","V"],"range":["square","circle","M0,-1L0.62,0L0,1L-0.62,0Z","circle","square"]}},
       "size":{"field":"series","type":"nominal","legend":null,"scale":{"type":"ordinal","domain":["D","M","R","C","V"],"range":[324,121,260,300,324]}},
       "fill":{"field":"series","type":"nominal","legend":null,"scale":{"domain":["D","M","R","C","V"],"range":["#000000","#e00000","#b5009b","transparent","transparent"]}},
       "stroke":{"field":"series","type":"nominal","legend":null,"scale":{"domain":["D","M","R","C","V"],"range":["#000000","#e00000","#b5009b","#0000ff","#1c6fd3"]}}}},
     {"data":{"values":[{}]},"mark":{"type":"text","text":"91.2 GeV","fontSize":34,"align":"left","baseline":"alphabetic"},"encoding":{
       "x":{"datum":1.621,"type":"quantitative","scale":{"domain":[1.5,20.5],"nice":false,"zero":false},"axis":null},
       "y":{"datum":2.039,"type":"quantitative","scale":{"type":"log","domain":[0.01,2],"nice":false},"axis":null}}},
     {"data":{"values":[{}]},"mark":{"type":"text","text":"Z→qq̄","fontSize":34,"align":"right","baseline":"alphabetic"},"encoding":{
       "x":{"datum":20.257,"type":"quantitative","scale":{"domain":[1.5,20.5],"nice":false,"zero":false},"axis":null},
       "y":{"datum":2.039,"type":"quantitative","scale":{"type":"log","domain":[0.01,2],"nice":false},"axis":null}}},
     {"data":{"values":[{}]},"mark":{"type":"text","text":"x","font":"Liberation Serif","fontStyle":"italic","fontSize":37,"align":"left","baseline":"alphabetic"},"encoding":{
       "x":{"datum":8.871,"type":"quantitative","scale":{"domain":[1.5,20.5],"nice":false,"zero":false},"axis":null},
       "y":{"datum":1.5083,"type":"quantitative","scale":{"type":"log","domain":[0.01,2],"nice":false},"axis":null}}},
     {"data":{"values":[{}]},"mark":{"type":"text","text":"weak","font":"Liberation Serif","fontStyle":"italic","fontSize":24,"align":"left","baseline":"alphabetic"},"encoding":{
       "x":{"datum":9.166,"type":"quantitative","scale":{"domain":[1.5,20.5],"nice":false,"zero":false},"axis":null},
       "y":{"datum":1.682,"type":"quantitative","scale":{"type":"log","domain":[0.01,2],"nice":false},"axis":null}}},
     {"data":{"values":[{}]},"mark":{"type":"text","text":"B","font":"Liberation Serif","fontStyle":"italic","fontSize":24,"align":"left","baseline":"alphabetic"},"encoding":{
       "x":{"datum":9.211,"type":"quantitative","scale":{"domain":[1.5,20.5],"nice":false,"zero":false},"axis":null},
       "y":{"datum":1.3522,"type":"quantitative","scale":{"type":"log","domain":[0.01,2],"nice":false},"axis":null}}},
     {"data":{"values":[{}]},"mark":{"type":"text","text":"(moments)","font":"Liberation Serif","fontStyle":"italic","fontSize":37,"align":"left","baseline":"alphabetic"},"encoding":{
       "x":{"datum":10.304,"type":"quantitative","scale":{"domain":[1.5,20.5],"nice":false,"zero":false},"axis":null},
       "y":{"datum":1.5083,"type":"quantitative","scale":{"type":"log","domain":[0.01,2],"nice":false},"axis":null}}},
     {"data":{"values":[{}]},"mark":{"type":"text","text":"Pythia 8.301","fontSize":30,"color":"#555555","align":"center","baseline":"alphabetic"},"encoding":{
       "x":{"datum":10.913,"type":"quantitative","scale":{"domain":[1.5,20.5],"nice":false,"zero":false},"axis":null},
       "y":{"datum":0.018566,"type":"quantitative","scale":{"type":"log","domain":[0.01,2],"nice":false},"axis":null}}},
     {"data":{"values":[{}]},"mark":{"type":"text","text":"Data from Eur. Phys. J. C71 (2011) 1557","fontSize":30,"color":"#555555","align":"center","baseline":"alphabetic"},"encoding":{
       "x":{"datum":10.913,"type":"quantitative","scale":{"domain":[1.5,20.5],"nice":false,"zero":false},"axis":null},
       "y":{"datum":0.013647,"type":"quantitative","scale":{"type":"log","domain":[0.01,2],"nice":false},"axis":null}}},
     {"data":{"values":[{}]},"mark":{"type":"text","text":"∫","font":"DejaVu Sans","fontSize":96,"angle":270,"align":"left","baseline":"alphabetic"},"encoding":{
       "x":{"datum":-0.092,"type":"quantitative","scale":{"domain":[1.5,20.5],"nice":false,"zero":false},"axis":null},
       "y":{"datum":0.4181,"type":"quantitative","scale":{"type":"log","domain":[0.01,2],"nice":false},"axis":null}}},
     {"data":{"values":[{}]},"mark":{"type":"text","text":"x","fontSize":41,"angle":270,"align":"left","baseline":"alphabetic"},"encoding":{
       "x":{"datum":-0.092,"type":"quantitative","scale":{"domain":[1.5,20.5],"nice":false,"zero":false},"axis":null},
       "y":{"datum":0.5835,"type":"quantitative","scale":{"type":"log","domain":[0.01,2],"nice":false},"axis":null}}},
     {"data":{"values":[{}]},"mark":{"type":"text","text":"N-1","fontSize":28,"angle":270,"align":"left","baseline":"alphabetic"},"encoding":{
       "x":{"datum":-0.836,"type":"quantitative","scale":{"domain":[1.5,20.5],"nice":false,"zero":false},"axis":null},
       "y":{"datum":0.6808,"type":"quantitative","scale":{"type":"log","domain":[0.01,2],"nice":false},"axis":null}}},
     {"data":{"values":[{}]},"mark":{"type":"point","shape":"M-1,-0.25L0,-0.25L0,-0.793L1,0L0,0.793L0,0.25L-1,0.25Z","size":111556,"filled":true,"color":"#000000","opacity":0.12,"strokeWidth":0,"xOffset":9,"yOffset":10},"encoding":{
       "x":{"datum":-0.663,"type":"quantitative","scale":{"domain":[1.5,20.5],"nice":false,"zero":false},"axis":null},
       "y":{"datum":0.04738,"type":"quantitative","scale":{"type":"log","domain":[0.01,2],"nice":false},"axis":null}}},
     {"data":{"values":[{}]},"mark":{"type":"point","shape":"M-1,-0.25L0,-0.25L0,-0.793L1,0L0,0.793L0,0.25L-1,0.25Z","size":111556,"filled":true,"color":"#000000","opacity":0.18,"strokeWidth":0,"xOffset":5,"yOffset":6},"encoding":{
       "x":{"datum":-0.663,"type":"quantitative","scale":{"domain":[1.5,20.5],"nice":false,"zero":false},"axis":null},
       "y":{"datum":0.04738,"type":"quantitative","scale":{"type":"log","domain":[0.01,2],"nice":false},"axis":null}}},
     {"data":{"values":[{}]},"mark":{"type":"point","shape":"M-1,-0.25L0,-0.25L0,-0.793L1,0L0,0.793L0,0.25L-1,0.25Z","size":111556,"filled":true,"opacity":1,"strokeWidth":0,"fill":{"gradient":"linear","x1":0,"y1":0,"x2":0,"y2":1,"stops":[{"offset":0,"color":"#0a7099"},{"offset":1,"color":"#0f4873"}]}},"encoding":{
       "x":{"datum":-0.663,"type":"quantitative","scale":{"domain":[1.5,20.5],"nice":false,"zero":false},"axis":null},
       "y":{"datum":0.04738,"type":"quantitative","scale":{"type":"log","domain":[0.01,2],"nice":false},"axis":null}}},
     {"data":{"values":[{}]},"mark":{"type":"text","text":"Moments","font":"Open Sans","fontWeight":"bold","fontSize":71,"align":"center","baseline":"alphabetic"},"encoding":{
       "x":{"datum":5.783,"type":"quantitative","scale":{"domain":[1.5,20.5],"nice":false,"zero":false},"axis":null},
       "y":{"datum":0.04126,"type":"quantitative","scale":{"type":"log","domain":[0.01,2],"nice":false},"axis":null}}}
    ],
    "resolve":{"axis":{"x":"independent","y":"independent"}}
   },
   {"data":{"name":"legR"},
    "layer":[
     {"transform":[{"filter":"datum.series != 'D'"}],"mark":{"type":"rule","strokeWidth":2},"encoding":{
       "x":{"datum":9.789,"type":"quantitative","scale":{"domain":[1.5,20.5],"nice":false,"zero":false},"axis":null},"x2":{"datum":11.658},
       "y":{"field":"series","type":"nominal","scale":{"type":"point","domain":["D","M","R","C","V"],"range":[101.75,301.75],"padding":0},"axis":null},
       "stroke":{"field":"series","type":"nominal","legend":null,"scale":{"domain":["D","M","R","C","V"],"range":["#000000","#e00000","#b5009b","#0000ff","#1c6fd3"]}},
       "strokeDash":{"field":"series","type":"nominal","legend":null,"scale":{"domain":["D","M","R","C","V"],"range":[[1,0],[1,0],[9,7],[2,5],[10,6,2,6]]}}}},
     {"mark":{"type":"point","strokeWidth":2,"opacity":1},"encoding":{
       "x":{"datum":10.699,"type":"quantitative","scale":{"domain":[1.5,20.5],"nice":false,"zero":false},"axis":null},
       "y":{"field":"series","type":"nominal","scale":{"type":"point","domain":["D","M","R","C","V"],"range":[101.75,301.75],"padding":0},"axis":null},
       "shape":{"field":"series","type":"nominal","legend":null,"scale":{"domain":["D","M","R","C","V"],"range":["square","circle","M0,-1L0.62,0L0,1L-0.62,0Z","circle","square"]}},
       "size":{"field":"series","type":"nominal","legend":null,"scale":{"type":"ordinal","domain":["D","M","R","C","V"],"range":[324,121,260,300,324]}},
       "fill":{"field":"series","type":"nominal","legend":null,"scale":{"domain":["D","M","R","C","V"],"range":["#000000","#e00000","#b5009b","transparent","transparent"]}},
       "stroke":{"field":"series","type":"nominal","legend":null,"scale":{"domain":["D","M","R","C","V"],"range":["#000000","#e00000","#b5009b","#0000ff","#1c6fd3"]}}}},
     {"mark":{"type":"text","fontSize":33,"align":"left","baseline":"middle"},"encoding":{
       "x":{"datum":12.056,"type":"quantitative","scale":{"domain":[1.5,20.5],"nice":false,"zero":false},"axis":null},
       "y":{"field":"series","type":"nominal","scale":{"type":"point","domain":["D","M","R","C","V"],"range":[101.75,301.75],"padding":0},"axis":null},
       "text":{"field":"label"}}},
     {"transform":[{"filter":"datum.sub != ''"}],"mark":{"type":"text","fontSize":23,"align":"left","baseline":"middle","dx":170,"dy":24},"encoding":{
       "x":{"datum":12.056,"type":"quantitative","scale":{"domain":[1.5,20.5],"nice":false,"zero":false},"axis":null},
       "y":{"field":"series","type":"nominal","scale":{"type":"point","domain":["D","M","R","C","V"],"range":[101.75,301.75],"padding":0},"axis":null},
       "text":{"field":"sub"}}},
     {"transform":[{"filter":"datum.tail != ''"}],"mark":{"type":"text","fontSize":33,"align":"left","baseline":"middle","dx":186},"encoding":{
       "x":{"datum":12.056,"type":"quantitative","scale":{"domain":[1.5,20.5],"nice":false,"zero":false},"axis":null},
       "y":{"field":"series","type":"nominal","scale":{"type":"point","domain":["D","M","R","C","V"],"range":[101.75,301.75],"padding":0},"axis":null},
       "text":{"field":"tail"}}}
    ]
   }
  ],
  "resolve":{"scale":{"y":"independent"},"axis":{"x":"independent","y":"independent"}}
 },
 {
  "width":1098,"height":340,
  "layer":[
   {"data":{"name":"bandL"},"mark":{"type":"point","opacity":0},"encoding":{
     "x":{"field":"xlo","type":"quantitative","scale":{"domain":[0,1],"nice":false,"zero":false},"axis":{"orient":"bottom","values":[0,0.2,0.4,0.6,0.8,1],"format":"~g","ticks":false,"tickSize":0,"labelPadding":6,"labelFontSize":39,"title":"x","titleFontSize":40,"titleAlign":"right","titleBaseline":"alphabetic","titleX":1088,"titleY":74}},
     "y":{"field":"y1lo","type":"quantitative","scale":{"domain":[0.5,1.5],"nice":false,"zero":false},"axis":{"orient":"left","values":[0.6,0.8,1,1.2,1.4],"format":"~g","ticks":false,"tickSize":0,"labelPadding":17,"labelFontSize":38,"title":"Theory/Data","titleFontSize":40,"titleAngle":270,"titleAlign":"center","titleBaseline":"alphabetic","titleX":-103,"titleY":170}}}},
   {"data":{"name":"bandL"},"mark":{"type":"point","opacity":0},"encoding":{
     "x":{"field":"xlo","type":"quantitative","scale":{"domain":[0,1],"nice":false,"zero":false},"axis":{"orient":"bottom","values":[0,0.2,0.4,0.6,0.8,1],"labels":false,"tickSize":-36.6,"title":null}},
     "y":{"field":"y1lo","type":"quantitative","scale":{"domain":[0.5,1.5],"nice":false,"zero":false},"axis":{"orient":"left","values":[0.6,0.8,1,1.2,1.4],"labels":false,"tickSize":-25.7,"title":null}}}},
   {"data":{"name":"bandL"},"mark":{"type":"point","opacity":0},"encoding":{
     "x":{"field":"xlo","type":"quantitative","scale":{"domain":[0,1],"nice":false,"zero":false},"axis":{"orient":"bottom","values":[0.05,0.1,0.15,0.25,0.3,0.35,0.45,0.5,0.55,0.65,0.7,0.75,0.85,0.9,0.95],"labels":false,"tickSize":-18.3,"title":null}},
     "y":{"field":"y1lo","type":"quantitative","scale":{"domain":[0.5,1.5],"nice":false,"zero":false},"axis":{"orient":"left","values":[0.55,0.65,0.7,0.75,0.85,0.9,0.95,1.05,1.1,1.15,1.25,1.3,1.35,1.45],"labels":false,"tickSize":-12.9,"title":null}}}},
   {"data":{"name":"bandL"},"mark":{"type":"rect","color":"#ffff66","clip":true},"encoding":{
     "x":{"field":"xlo","type":"quantitative","scale":{"domain":[0,1],"nice":false,"zero":false},"axis":null},"x2":{"field":"xhi"},
     "y":{"field":"y2lo","type":"quantitative","scale":{"domain":[0.5,1.5],"nice":false,"zero":false},"axis":null},"y2":{"field":"y2hi"}}},
   {"data":{"name":"bandL"},"mark":{"type":"rect","color":"#33ff33","clip":true},"encoding":{
     "x":{"field":"xlo","type":"quantitative","scale":{"domain":[0,1],"nice":false,"zero":false},"axis":null},"x2":{"field":"xhi"},
     "y":{"field":"y1lo","type":"quantitative","scale":{"domain":[0.5,1.5],"nice":false,"zero":false},"axis":null},"y2":{"field":"y1hi"}}},
   {"data":{"name":"bandL"},"mark":{"type":"rect","color":"#99ff99","clip":true},"encoding":{
     "x":{"field":"xlo","type":"quantitative","scale":{"domain":[0,1],"nice":false,"zero":false},"axis":null},"x2":{"field":"xhi"},
     "y":{"field":"slo","type":"quantitative","scale":{"domain":[0.5,1.5],"nice":false,"zero":false},"axis":null},"y2":{"field":"shi"}}},
   {"data":{"values":[{}]},"mark":{"type":"rule","color":"#000000","strokeWidth":2},"encoding":{
     "y":{"datum":1,"type":"quantitative","scale":{"domain":[0.5,1.5],"nice":false,"zero":false},"axis":null}}},
   {"data":{"name":"ratL"},"mark":{"type":"line","strokeWidth":2,"clip":true},"encoding":{
     "x":{"field":"x","type":"quantitative","scale":{"domain":[0,1],"nice":false,"zero":false},"axis":null},
     "y":{"field":"r","type":"quantitative","scale":{"domain":[0.5,1.5],"nice":false,"zero":false},"axis":null},
     "stroke":{"field":"series","type":"nominal","legend":null,"scale":{"domain":["D","M","R","C","V"],"range":["#000000","#e00000","#b5009b","#0000ff","#1c6fd3"]}},
     "strokeDash":{"field":"series","type":"nominal","legend":null,"scale":{"domain":["D","M","R","C","V"],"range":[[1,0],[1,0],[9,7],[2,5],[10,6,2,6]]}}}},
   {"data":{"name":"ratL"},"mark":{"type":"point","strokeWidth":2,"opacity":1,"clip":true},"encoding":{
     "x":{"field":"x","type":"quantitative","scale":{"domain":[0,1],"nice":false,"zero":false},"axis":null},
     "y":{"field":"r","type":"quantitative","scale":{"domain":[0.5,1.5],"nice":false,"zero":false},"axis":null},
     "shape":{"field":"series","type":"nominal","legend":null,"scale":{"domain":["D","M","R","C","V"],"range":["square","circle","M0,-1L0.62,0L0,1L-0.62,0Z","circle","square"]}},
     "size":{"field":"series","type":"nominal","legend":null,"scale":{"type":"ordinal","domain":["D","M","R","C","V"],"range":[324,121,260,300,324]}},
     "fill":{"field":"series","type":"nominal","legend":null,"scale":{"domain":["D","M","R","C","V"],"range":["#000000","#e00000","#b5009b","transparent","transparent"]}},
     "stroke":{"field":"series","type":"nominal","legend":null,"scale":{"domain":["D","M","R","C","V"],"range":["#000000","#e00000","#b5009b","#0000ff","#1c6fd3"]}}}}
  ],
  "resolve":{"axis":{"x":"independent","y":"independent"}}
 },
 {
  "width":1098,"height":340,
  "layer":[
   {"data":{"name":"bandR"},"mark":{"type":"point","opacity":0},"encoding":{
     "x":{"field":"nlo","type":"quantitative","scale":{"domain":[1.5,20.5],"nice":false,"zero":false},"axis":{"orient":"bottom","values":[5,10,15,20],"ticks":false,"tickSize":0,"labelPadding":6,"labelFontSize":38,"title":"Mellin Moment N","titleFontSize":37,"titleAlign":"right","titleBaseline":"alphabetic","titleX":1096,"titleY":76}},
     "y":{"field":"y1lo","type":"quantitative","scale":{"domain":[0.75,1.25],"nice":false,"zero":false},"axis":{"orient":"left","values":[0.8,0.9,1,1.1,1.2],"format":"~g","ticks":false,"tickSize":0,"labelPadding":17,"labelFontSize":38,"title":"Theory/Data","titleFontSize":40,"titleAngle":270,"titleAlign":"center","titleBaseline":"alphabetic","titleX":-102,"titleY":170}}}},
   {"data":{"name":"bandR"},"mark":{"type":"point","opacity":0},"encoding":{
     "x":{"field":"nlo","type":"quantitative","scale":{"domain":[1.5,20.5],"nice":false,"zero":false},"axis":{"orient":"bottom","values":[5,10,15,20],"labels":false,"tickSize":-36.6,"title":null}},
     "y":{"field":"y1lo","type":"quantitative","scale":{"domain":[0.75,1.25],"nice":false,"zero":false},"axis":{"orient":"left","values":[0.8,0.9,1,1.1,1.2],"labels":false,"tickSize":-25.7,"title":null}}}},
   {"data":{"name":"bandR"},"mark":{"type":"point","opacity":0},"encoding":{
     "x":{"field":"nlo","type":"quantitative","scale":{"domain":[1.5,20.5],"nice":false,"zero":false},"axis":{"orient":"bottom","values":[2,3,4,6,7,8,9,11,12,13,14,16,17,18,19],"labels":false,"tickSize":-18.3,"title":null}},
     "y":{"field":"y1lo","type":"quantitative","scale":{"domain":[0.75,1.25],"nice":false,"zero":false},"axis":{"orient":"left","values":[0.76,0.78,0.82,0.84,0.86,0.88,0.92,0.94,0.96,0.98,1.02,1.04,1.06,1.08,1.12,1.14,1.16,1.18,1.22,1.24],"labels":false,"tickSize":-12.9,"title":null}}}},
   {"data":{"name":"bandR"},"mark":{"type":"rect","color":"#ffff66","clip":true},"encoding":{
     "x":{"field":"nlo","type":"quantitative","scale":{"domain":[1.5,20.5],"nice":false,"zero":false},"axis":null},"x2":{"field":"nhi"},
     "y":{"field":"y2lo","type":"quantitative","scale":{"domain":[0.75,1.25],"nice":false,"zero":false},"axis":null},"y2":{"field":"y2hi"}}},
   {"data":{"name":"bandR"},"mark":{"type":"rect","color":"#99ff99","clip":true},"encoding":{
     "x":{"field":"nlo","type":"quantitative","scale":{"domain":[1.5,20.5],"nice":false,"zero":false},"axis":null},"x2":{"field":"nhi"},
     "y":{"field":"y1lo","type":"quantitative","scale":{"domain":[0.75,1.25],"nice":false,"zero":false},"axis":null},"y2":{"field":"y1hi"}}},
   {"data":{"values":[{}]},"mark":{"type":"rule","color":"#000000","strokeWidth":2},"encoding":{
     "y":{"datum":1,"type":"quantitative","scale":{"domain":[0.75,1.25],"nice":false,"zero":false},"axis":null}}},
   {"data":{"name":"ratR"},"mark":{"type":"line","strokeWidth":2,"clip":true},"encoding":{
     "x":{"field":"N","type":"quantitative","scale":{"domain":[1.5,20.5],"nice":false,"zero":false},"axis":null},
     "y":{"field":"r","type":"quantitative","scale":{"domain":[0.75,1.25],"nice":false,"zero":false},"axis":null},
     "stroke":{"field":"series","type":"nominal","legend":null,"scale":{"domain":["D","M","R","C","V"],"range":["#000000","#e00000","#b5009b","#0000ff","#1c6fd3"]}},
     "strokeDash":{"field":"series","type":"nominal","legend":null,"scale":{"domain":["D","M","R","C","V"],"range":[[1,0],[1,0],[9,7],[2,5],[10,6,2,6]]}}}},
   {"data":{"name":"ratR"},"mark":{"type":"point","strokeWidth":2,"opacity":1,"clip":true},"encoding":{
     "x":{"field":"N","type":"quantitative","scale":{"domain":[1.5,20.5],"nice":false,"zero":false},"axis":null},
     "y":{"field":"r","type":"quantitative","scale":{"domain":[0.75,1.25],"nice":false,"zero":false},"axis":null},
     "shape":{"field":"series","type":"nominal","legend":null,"scale":{"domain":["D","M","R","C","V"],"range":["square","circle","M0,-1L0.62,0L0,1L-0.62,0Z","circle","square"]}},
     "size":{"field":"series","type":"nominal","legend":null,"scale":{"type":"ordinal","domain":["D","M","R","C","V"],"range":[324,121,260,300,324]}},
     "fill":{"field":"series","type":"nominal","legend":null,"scale":{"domain":["D","M","R","C","V"],"range":["#000000","#e00000","#b5009b","transparent","transparent"]}},
     "stroke":{"field":"series","type":"nominal","legend":null,"scale":{"domain":["D","M","R","C","V"],"range":["#000000","#e00000","#b5009b","#0000ff","#1c6fd3"]}}}}
  ],
  "resolve":{"axis":{"x":"independent","y":"independent"}}
 }
]
}
